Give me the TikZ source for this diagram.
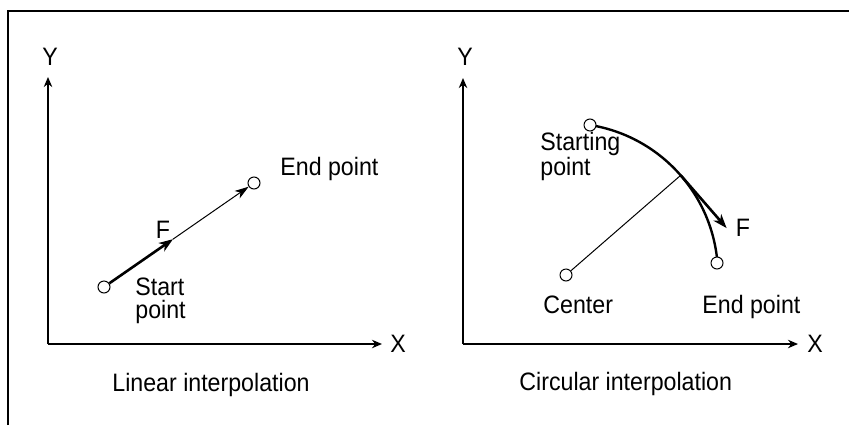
\documentclass[tikz,border=0pt]{standalone}
\usepackage{fontspec}
\setmainfont{Liberation Sans}
\usetikzlibrary{arrows.meta,calc}
\newcommand\narrowtxt[1]{\scalebox{0.92}[1]{#1}}
\begin{document}
\begin{tikzpicture}[x=0.5pt,y=0.5pt,
  every node/.style={font=\fontsize{12.6}{13}\selectfont},
  lbl/.style={inner sep=0pt},
  axis/.style={line width=1pt,-{Stealth[length=5pt,width=4.2pt,inset=1.6pt]}},
  frameline/.style={line width=0.9pt},
  pt/.style={circle,draw,fill=white,line width=0.5pt,inner sep=0pt,minimum size=6pt},
  thickarrow/.style={line width=1.3pt,-{Stealth[length=7pt,width=5pt,inset=2pt]}},
  thinarrow/.style={line width=0.5pt,-{Stealth[length=7pt,width=4.5pt,inset=2pt]}},
  thinline/.style={line width=0.5pt},
  arcline/.style={line width=1.2pt}]
\useasboundingbox (0,0) rectangle (849,425);
% frame
\coordinate (fb) at (8,0);
\coordinate (ftl) at (8,414);
\coordinate (fr) at (849,414);
\draw[frameline] (fb) -- (ftl) -- (fr);

% ---------- Linear interpolation ----------
\coordinate (lo) at (48,81);
\coordinate (ly) at (48,348);
\coordinate (lx) at (382,81);
\draw[axis] (lo) -- (ly);
\draw[axis] (lo) -- (lx);
\node[lbl] (lyl) at (50,368) {\narrowtxt{Y}};
\node[lbl] (lxl) at (398,81) {\narrowtxt{X}};

\node[pt] (ls) at (104,138) {};
\node[pt] (le) at (254,242) {};
\coordinate (lf) at ($(ls.center)!0.46!(le.center)$);
\draw[thickarrow] (ls) -- (lf);
\draw[thinarrow] (lf) -- (le);
\node[lbl] (lF) at (163,195) {\narrowtxt{F}};
\node[lbl,anchor=base west] (lsl1) at (135,129.5) {\narrowtxt{Start}};
\node[lbl,anchor=base west] (lsl2) at (135,107) {\narrowtxt{point}};
\node[lbl,anchor=base west] (lel) at (280,250) {\narrowtxt{End point}};
\node[lbl,anchor=base west] (lcap) at (112,34) {\narrowtxt{Linear interpolation}};

% ---------- Circular interpolation ----------
\coordinate (ro) at (463,81);
\coordinate (ry) at (463,347);
\coordinate (rx) at (798,81);
\draw[axis] (ro) -- (ry);
\draw[axis] (ro) -- (rx);
\node[lbl] (ryl) at (465,368) {\narrowtxt{Y}};
\node[lbl] (rxl) at (815,81) {\narrowtxt{X}};

\coordinate (rs0) at (590,300);
\draw[arcline] (rs0) arc[start angle=80.9, end angle=4.6, radius=76pt];
\coordinate (rcc) at (566,150);
\coordinate (rp) at ($(rcc)+(41:76pt)$);
\coordinate (rt) at ($(rp)+(-49:35pt)$);
\node[pt] (rc) at (rcc) {};
\draw[thinline] (rc) -- (rp);
\draw[thickarrow] (rp) -- (rt);
\node[pt] (rs) at (590,300) {};
\node[pt] (re) at (717,162) {};
\node[lbl] (rF) at (743,197) {\narrowtxt{F}};
\node[lbl,anchor=base west] (rsl1) at (540,274.5) {\narrowtxt{Starting}};
\node[lbl,anchor=base west] (rsl2) at (540,250) {\narrowtxt{point}};
\node[lbl,anchor=base west] (rcl) at (543,112) {\narrowtxt{Center}};
\node[lbl,anchor=base west] (rel) at (702,112) {\narrowtxt{End point}};
\node[lbl,anchor=base west] (rcap) at (519,35) {\narrowtxt{Circular interpolation}};
\end{tikzpicture}
\end{document}
